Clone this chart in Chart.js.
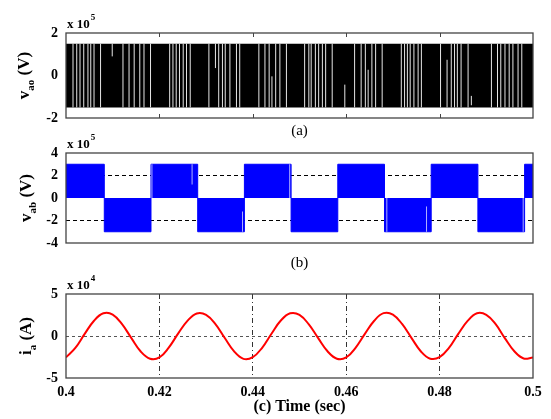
<!DOCTYPE html>
<html>
<head>
<meta charset="utf-8">
<script src="https://cdn.jsdelivr.net/npm/chart.js@4.4.1/dist/chart.umd.min.js"></script>
<style>
  html, body { margin: 0; padding: 0; background: #fff; }
  #wrap { position: relative; width: 551px; height: 419px; }
  canvas { position: absolute; left: 0; top: 0; }
</style>
</head>
<body>
<div id="wrap">
  <canvas id="chartA" width="551" height="419"></canvas>
  <canvas id="chartB" width="551" height="419"></canvas>
  <canvas id="chartC" width="551" height="419"></canvas>
</div>
<script>
// time range (sec)
const tStart = 0.4;
const tEnd = 0.5;
const timeTicks = [0.42, 0.44, 0.46, 0.48];

// (a) v_ao, x 10^5 V : switches between two levels, white lines where it rests
const vaoLevels = [-1.5, 1.5];
const vaoGaps = [
  0.4015, 0.4023, 0.4030, 0.4038, 0.4047, 0.4053, 0.4060, 0.4074,
  0.4122, 0.4135, 0.4146, 0.4158, 0.4167, 0.4181,
  0.4222, 0.4229, 0.4236, 0.4243, 0.4251, 0.4258, 0.4266,
  0.4306, 0.4327, 0.4335, 0.4341, 0.4351, 0.4365, 0.4372,
  0.4413, 0.4426, 0.4435, 0.4449, 0.4458, 0.4472,
  0.4511, 0.4520, 0.4525, 0.4534, 0.4541, 0.4549, 0.4556, 0.4570,
  0.4618, 0.4632, 0.4641, 0.4655, 0.4663, 0.4677,
  0.4718, 0.4725, 0.4731, 0.4737, 0.4745, 0.4754, 0.4761,
  0.4802, 0.4825, 0.4832, 0.4838, 0.4846, 0.4861,
  0.4911, 0.4924, 0.4931, 0.4940, 0.4949, 0.4957, 0.4968, 0.4976
];
// [time, low, high] short gaps
const vaoPartGaps = [
  [0.4099, 0.9, 1.5], [0.4320, 0.35, 1.5], [0.4441, -1.5, -0.04],
  [0.4597, -1.5, -0.43], [0.4647, -1.5, 0.27], [0.4816, -1.5, 0.74],
  [0.4868, -1.4, -0.96]
];

// (b) v_ab, x 10^5 V
const vabEdges = [0.4, 0.4082, 0.4182, 0.4282, 0.4382, 0.4482, 0.4582,
                  0.4682, 0.4782, 0.4882, 0.4982, 0.5];
const vabLevels = [3, -3, 3, -3, 3, -3, 3, -3, 3, -3, 3];
const vabGaps = [
  [0.4184, 0, 3], [0.4270, 1.2, 3], [0.4378, -3, -1.2], [0.4479, 0, 3],
  [0.4687, -3, 0], [0.4772, -3, -0.75], [0.4979, -3, 0]
];

// (c) i_a, x 10^4 A
const iaTime = [
  0.400, 0.402, 0.404, 0.406, 0.408, 0.410, 0.412, 0.414, 0.416, 0.418,
  0.420, 0.422, 0.424, 0.426, 0.428, 0.430, 0.432, 0.434, 0.436, 0.438,
  0.440, 0.442, 0.444, 0.446, 0.448, 0.450, 0.452, 0.454, 0.456, 0.458,
  0.460, 0.462, 0.464, 0.466, 0.468, 0.470, 0.472, 0.474, 0.476, 0.478,
  0.480, 0.482, 0.484, 0.486, 0.488, 0.490, 0.492, 0.494, 0.496, 0.498,
  0.500
];
const iaValues = [
  -2.55, -1.42, 0.25, 1.82, 2.70, 2.55, 1.40, -0.25, -1.85, -2.70,
  -2.55, -1.38, 0.28, 1.80, 2.68, 2.52, 1.42, -0.24, -1.83, -2.72,
  -2.52, -1.40, 0.27, 1.84, 2.70, 2.52, 1.38, -0.26, -1.82, -2.70,
  -2.55, -1.40, 0.25, 1.82, 2.72, 2.55, 1.40, -0.25, -1.84, -2.70,
  -2.52, -1.42, 0.26, 1.80, 2.70, 2.52, 1.40, -0.28, -1.82, -2.68,
  -2.55
];

const serif = '"Liberation Serif", "Times New Roman", serif';

function gapPoints(list) {
  const pts = [];
  list.forEach(g => {
    pts.push({x: g[0], y: g[1]}, {x: g[0], y: g[2]}, {x: g[0], y: null});
  });
  return pts;
}

// frame, inward ticks, exponent, y title and caption
function makeDecor(cfg) {
  return {
    id: 'decor',
    afterDraw(chart) {
      const ctx = chart.ctx;
      const a = chart.chartArea;
      const xs = chart.scales.x;
      ctx.save();
      ctx.strokeStyle = '#444';
      ctx.lineWidth = 1.3;
      ctx.strokeRect(a.left, a.top, a.right - a.left, a.bottom - a.top);
      if (cfg.inTicks) {
        ctx.lineWidth = 1;
        timeTicks.forEach(t => {
          const px = Math.round(xs.getPixelForValue(t)) + 0.5;
          ctx.beginPath();
          ctx.moveTo(px, a.top); ctx.lineTo(px, a.top + 4);
          ctx.moveTo(px, a.bottom); ctx.lineTo(px, a.bottom - 4);
          ctx.stroke();
        });
      }
      ctx.fillStyle = '#000';
      ctx.textAlign = 'left';
      ctx.textBaseline = 'alphabetic';
      ctx.font = 'bold 13px ' + serif;
      ctx.fillText('x 10', a.left + 1, a.top - 5);
      const w = ctx.measureText('x 10').width;
      ctx.font = 'bold 9px ' + serif;
      ctx.fillText(cfg.exp, a.left + 2 + w, a.top - 13);

      // rotated y title with subscript
      ctx.save();
      ctx.translate(cfg.titleX, (a.top + a.bottom) / 2);
      ctx.rotate(-Math.PI / 2);
      let total = 0;
      cfg.title.forEach(p => {
        ctx.font = 'bold ' + p[1] + 'px ' + serif;
        total += ctx.measureText(p[0]).width;
      });
      let x = -total / 2;
      cfg.title.forEach(p => {
        ctx.font = 'bold ' + p[1] + 'px ' + serif;
        ctx.fillText(p[0], x, p[2]);
        x += ctx.measureText(p[0]).width;
      });
      ctx.restore();

      ctx.textAlign = 'center';
      ctx.textBaseline = 'middle';
      ctx.font = cfg.captionFont + ' ' + serif;
      ctx.fillText(cfg.caption, (a.left + a.right) / 2, cfg.captionY);
      ctx.restore();
    }
  };
}

function yAxis(min, max, step, gridColor, dash) {
  return {
    min: min, max: max,
    afterFit(s) { s.width = 66; },
    ticks: {
      stepSize: step, padding: 8, color: '#000',
      font: {family: serif, size: 14, weight: 'bold'}
    },
    grid: {display: !!gridColor, color: gridColor, drawTicks: false, lineWidth: 1},
    border: {display: false, dash: dash || []}
  };
}

function baseOptions(pad, scales) {
  return {
    responsive: false,
    animation: false,
    events: [],
    layout: {padding: pad},
    scales: scales,
    elements: {point: {radius: 0}},
    plugins: {legend: {display: false}, tooltip: {enabled: false}}
  };
}

// (a)
new Chart(document.getElementById('chartA'), {
  type: 'line',
  data: {
    datasets: [
      {
        data: gapPoints(vaoGaps.map(t => [t, vaoLevels[0], vaoLevels[1]]))
          .concat(gapPoints(vaoPartGaps)),
        borderColor: '#e6e6e6', borderWidth: 1, fill: false, order: 0
      },
      {
        data: [{x: tStart, y: vaoLevels[1]}, {x: tEnd, y: vaoLevels[1]}],
        borderColor: '#000', borderWidth: 0, backgroundColor: '#000',
        fill: {value: vaoLevels[0]}, order: 1
      }
    ]
  },
  options: baseOptions({top: 33, right: 18, bottom: 301, left: 0}, {
    x: {type: 'linear', min: tStart, max: tEnd, display: false},
    y: yAxis(-2, 2, 2, null)
  }),
  plugins: [makeDecor({
    inTicks: true, exp: '5', titleX: 29,
    title: [['v', 17, 0], ['ao', 11, 5], [' (V)', 17, 0]],
    caption: '(a)', captionFont: '15px', captionY: 131
  })]
});

// (b)
new Chart(document.getElementById('chartB'), {
  type: 'line',
  data: {
    datasets: [
      {
        data: gapPoints(vabGaps),
        borderColor: 'rgba(220,220,255,0.8)', borderWidth: 1, fill: false, order: 0
      },
      {
        data: vabEdges.map((t, i) => ({x: t, y: vabLevels[Math.min(i, vabLevels.length - 1)]})),
        stepped: 'before',
        borderColor: '#0000ff', borderWidth: 1, backgroundColor: '#0000ff',
        fill: 'origin', order: 1
      }
    ]
  },
  options: baseOptions({top: 153, right: 18, bottom: 176, left: 0}, {
    x: {type: 'linear', min: tStart, max: tEnd, display: false},
    y: yAxis(-4, 4, 2, ctx => (ctx.tick && Math.abs(ctx.tick.value) === 2) ? '#000' : 'rgba(0,0,0,0)', [4, 3])
  }),
  plugins: [makeDecor({
    inTicks: false, exp: '5', titleX: 31,
    title: [['v', 17, 0], ['ab', 11, 5], [' (V)', 17, 0]],
    caption: '(b)', captionFont: '15px', captionY: 263
  })]
});

// (c)
new Chart(document.getElementById('chartC'), {
  type: 'line',
  data: {
    datasets: [{
      data: iaTime.map((t, i) => ({x: t, y: iaValues[i]})),
      borderColor: '#ff0000', borderWidth: 2, fill: false, tension: 0.4
    }]
  },
  options: baseOptions({top: 294, right: 18, bottom: 19, left: 0}, {
    x: {
      type: 'linear', min: tStart, max: tEnd,
      afterFit(s) { s.height = 22; },
      ticks: {
        stepSize: 0.02, padding: 6, color: '#000', maxRotation: 0,
        font: {family: serif, size: 14, weight: 'bold'},
        callback: v => String(+v.toFixed(2))
      },
      grid: {
        drawTicks: false, lineWidth: 1,
        color: ctx => (ctx.tick && ctx.tick.value > 0.401 && ctx.tick.value < 0.499) ? '#333' : 'rgba(0,0,0,0)'
      },
      border: {display: false, dash: [5, 3, 1, 3]}
    },
    y: yAxis(-5, 5, 5, ctx => (ctx.tick && ctx.tick.value === 0) ? '#555' : 'rgba(0,0,0,0)', [3, 3])
  }),
  plugins: [makeDecor({
    inTicks: false, exp: '4', titleX: 31,
    title: [['i', 17, 0], ['a', 11, 5], [' (A)', 17, 0]],
    caption: '(c) Time (sec)', captionFont: 'bold 16px', captionY: 407
  })]
});
</script>
</body>
</html>
